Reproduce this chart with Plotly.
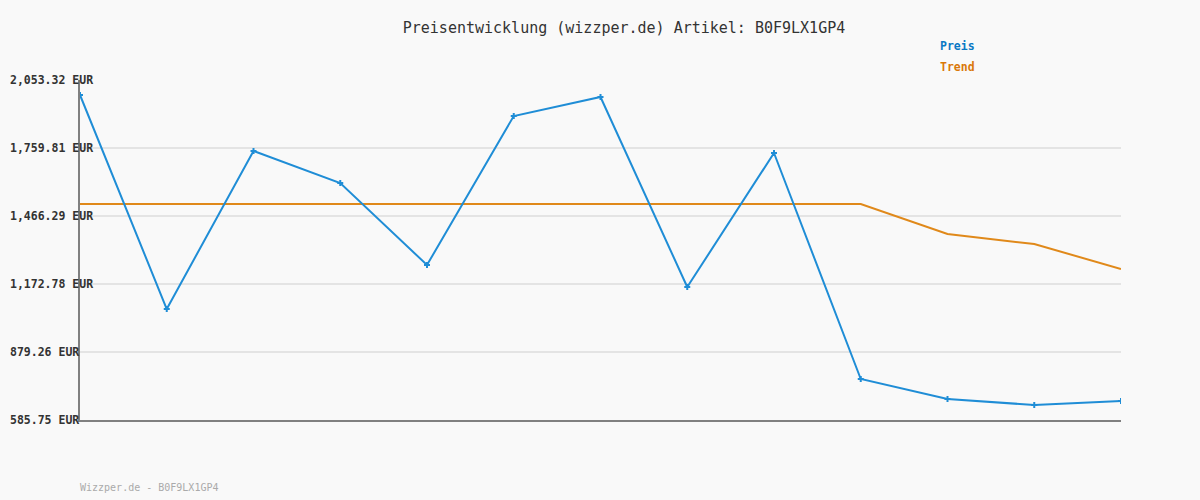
import plotly.graph_objects as go

idx = list(range(13))
preis = [1988.6, 1064.8, 1746.9, 1608.7, 1254.8, 1897.9, 1979.9, 1159.8, 1738.2, 762.7, 676.4, 650.5, 667.7]
trend = [1518.1] * 10 + [1388.6, 1345.4, 1237.5]
tick_vals = [585.75, 879.26, 1172.78, 1466.29, 1759.81, 2053.32]
tick_text = ["585.75 EUR", "879.26 EUR", "1,172.78 EUR", "1,466.29 EUR", "1,759.81 EUR", "2,053.32 EUR"]

MONO = "DejaVu Sans Mono"
BLUE = "#1f8dd6"
ORANGE = "#e0891a"

fig = go.Figure()
fig.add_trace(go.Scatter(x=idx, y=trend, mode="lines", name="Trend",
                         line=dict(color=ORANGE, width=2), hoverinfo="skip"))
fig.add_trace(go.Scatter(x=idx, y=preis, mode="lines+markers", name="Preis",
                         line=dict(color=BLUE, width=2),
                         marker=dict(symbol="cross", size=5, color=BLUE)))

annotations = []
for v, t in zip(tick_vals, tick_text):
    annotations.append(dict(xref="paper", yref="y", x=-72 / 1041, y=v, text="<b>" + t + "</b>",
                            showarrow=False, xanchor="left", yanchor="middle",
                            font=dict(family=MONO, size=11.5, color="#333333")))
annotations += [
    dict(xref="paper", yref="paper", x=(938 - 80) / 1041, y=(420 - 46) / 340, text="<b>Preis</b>",
         showarrow=False, xanchor="left", yanchor="middle",
         font=dict(family=MONO, size=11.5, color="#0a78c4")),
    dict(xref="paper", yref="paper", x=(938 - 80) / 1041, y=(420 - 67) / 340, text="<b>Trend</b>",
         showarrow=False, xanchor="left", yanchor="middle",
         font=dict(family=MONO, size=11.5, color="#d9780a")),
    dict(xref="paper", yref="paper", x=-2 / 1041, y=(420 - 487) / 340, text="Wizzper.de - B0F9LX1GP4",
         showarrow=False, xanchor="left", yanchor="middle",
         font=dict(family=MONO, size=10, color="#aaaaaa")),
]

fig.update_layout(
    width=1200, height=500,
    margin=dict(l=80, r=79, t=80, b=80),
    paper_bgcolor="#f9f9f9", plot_bgcolor="#f9f9f9",
    showlegend=False,
    title=dict(text="Preisentwicklung (wizzper.de) Artikel: B0F9LX1GP4",
               x=624 / 1200, xanchor="center", y=1 - 28 / 500, yanchor="middle",
               font=dict(family=MONO, size=15, color="#333333")),
    xaxis=dict(range=[0, 12], showgrid=False, zeroline=False, showticklabels=False,
               showline=True, linecolor="#808080", linewidth=2, ticks=""),
    yaxis=dict(range=[585.75, 2053.32], tickvals=tick_vals, showticklabels=False,
               showgrid=True, gridcolor="#e4e4e4", gridwidth=2, zeroline=False,
               showline=True, linecolor="#808080", linewidth=2, ticks=""),
    annotations=annotations,
)
fig.write_html("out.html", config={"displayModeBar": False},
               post_script="document.body.style.margin='0';document.body.style.background='#f9f9f9';")
